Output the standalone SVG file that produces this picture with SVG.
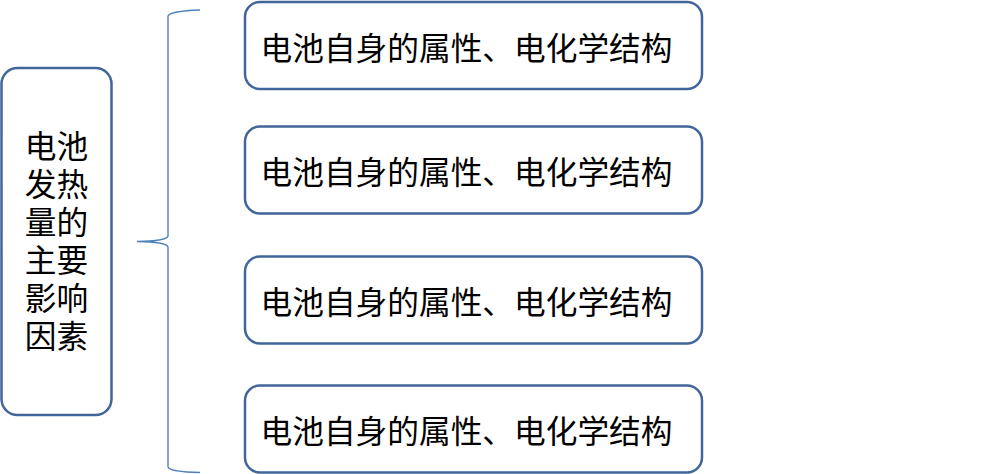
<svg xmlns="http://www.w3.org/2000/svg" width="1004" height="474" viewBox="0 0 1004 474">
<style>
.box{fill:#ffffff;stroke:#41669a;stroke-width:2.5}
.t{font-family:"Liberation Sans","Noto Sans CJK SC",sans-serif;font-size:31.7px;fill:#000000}
.brace{fill:none;stroke:#4f81bd;stroke-width:1.4}
</style>
<rect width="1004" height="474" fill="#ffffff"/>
<g id="root">
<rect class="box" x="1.5" y="68" width="110" height="347" rx="16"/>
<text class="t" text-anchor="middle" x="56.5" y="158">电池</text>
<text class="t" text-anchor="middle" x="56.5" y="196">发热</text>
<text class="t" text-anchor="middle" x="56.5" y="234">量的</text>
<text class="t" text-anchor="middle" x="56.5" y="272">主要</text>
<text class="t" text-anchor="middle" x="56.5" y="310">影响</text>
<text class="t" text-anchor="middle" x="56.5" y="348">因素</text>
</g>
<g id="connectors">
<path class="brace" d="M200,10 Q170,11 168,16 L168,236 Q167,241 137,241.5 Q167,242 168,247 L168,467 Q170,472 200,472.5"/>
</g>
<g id="item1">
<rect class="box" x="245" y="2" width="457" height="87" rx="15"/>
<text class="t" x="260.5" y="59.5">电池自身的属性、电化学结构</text>
</g>
<g id="item2">
<rect class="box" x="245" y="126.5" width="457" height="87" rx="15"/>
<text class="t" x="260.5" y="184">电池自身的属性、电化学结构</text>
</g>
<g id="item3">
<rect class="box" x="245" y="256.5" width="457" height="87" rx="15"/>
<text class="t" x="260.5" y="314">电池自身的属性、电化学结构</text>
</g>
<g id="item4">
<rect class="box" x="245" y="385.5" width="457" height="87" rx="15"/>
<text class="t" x="260.5" y="443">电池自身的属性、电化学结构</text>
</g>
</svg>
